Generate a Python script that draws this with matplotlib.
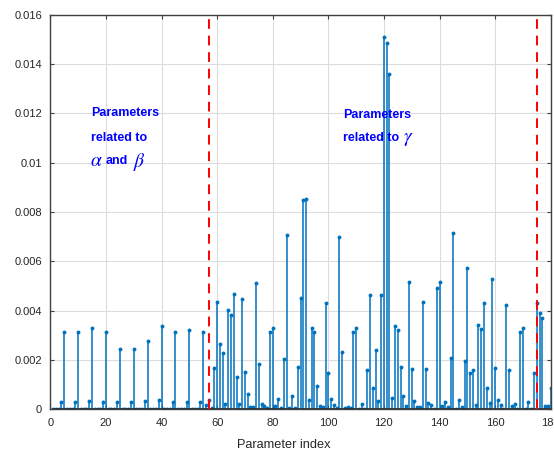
import numpy as np
import matplotlib
matplotlib.use("Agg")
import matplotlib.pyplot as plt

plt.rcParams['font.family'] = ['Liberation Sans', 'DejaVu Sans']
plt.rcParams['mathtext.fontset'] = 'stix'

# Parameter indices 1..180 and their values
param_index = list(range(1, 181))
values = [
    0, 0, 0, 0.0003, 0.00315,
    0, 0, 0, 0.0003, 0.00315,
    0, 0, 0, 0.00034, 0.00331,
    0, 0, 0, 0.0003, 0.00315,
    0, 0, 0, 0.0003, 0.00243,
    0, 0, 0, 0.0003, 0.00243,
    0, 0, 0, 0.00035, 0.00277,
    0, 0, 0, 0.00039, 0.00338,
    0, 0, 0, 0.0003, 0.00314,
    0, 0, 0, 0.0003, 0.00322,
    0, 0, 0, 0.0003, 0.00315,
    0.00016, 0.00038, 0.00006, 0.00169, 0.00436,
    0.00264, 0.00228, 0.0002, 0.00402, 0.00382,
    0.00468, 0.00132, 0.0002, 0.00449, 0.00152,
    0.00063, 0.0001, 0.00008, 0.00511, 0.00184,
    0.0002, 0.00015, 0.00005, 0.00315, 0.0033,
    0.00015, 0.00043, 0.00007, 0.00205, 0.00707,
    0.00007, 0.00055, 0.00007, 0.0017, 0.0045,
    0.00849, 0.00853, 0.00038, 0.0033, 0.00314,
    0.00095, 0.00015, 0.0001, 0.0043, 0.00149,
    0.0004, 0.00019, 0.00007, 0.007, 0.00232,
    0.00007, 0.0001, 0.00004, 0.00315, 0.0033,
    0, 0.0002, 0.00003, 0.0016, 0.00464,
    0.00085, 0.0024, 0.00033, 0.00464, 0.01509,
    0.01485, 0.0136, 0.00045, 0.00338, 0.00322,
    0.00173, 0.00054, 0.00013, 0.00515, 0.00162,
    0.00035, 0.00008, 0.00008, 0.00437, 0.00162,
    0.00024, 0.00017, 0.00003, 0.00491, 0.00515,
    0.00013, 0.00031, 0.00008, 0.00207, 0.00714,
    0.00003, 0.00038, 0.00008, 0.00197, 0.00572,
    0.00149, 0.0016, 0.00017, 0.00342, 0.00326,
    0.0043, 0.00085, 0.00027, 0.00529, 0.00169,
    0.00038, 0.00017, 0.00003, 0.00423, 0.0016,
    0.00013, 0.0002, 0, 0.00312, 0.00329,
    0, 0.00031, 0.00003, 0.00146, 0.0043,
    0.00389, 0.00369, 0.00013, 0.00013, 0.00085,
]
boundaries = [57, 175]
x_ticks = [0, 20, 40, 60, 80, 100, 120, 140, 160, 180]
y_ticks = [0, 0.002, 0.004, 0.006, 0.008, 0.01, 0.012, 0.014, 0.016]
y_tick_labels = ['0', '0.002', '0.004', '0.006', '0.008', '0.01', '0.012', '0.014', '0.016']

W, H = 554, 454
fig = plt.figure(figsize=(W / 100, H / 100), dpi=100)
left, right, top, bottom = 50.3, 550.7, 14.9, 409.3
ax = fig.add_axes([left / W, 1 - bottom / H, (right - left) / W, (bottom - top) / H])

blue = '#0072BD'
ml, sl, bl = ax.stem(param_index, values, linefmt='-', markerfmt='o', basefmt='-')
plt.setp(sl, color=blue, linewidth=1.1)
plt.setp(ml, color=blue, markersize=2.8, markeredgewidth=0)
plt.setp(bl, color='#262626', linewidth=1.2)

for b in boundaries:
    ax.axvline(b, color='#FF0000', linestyle=(0, (5, 3.5)), linewidth=1.4, zorder=5)

ax.set_xlim(0, 180)
ax.set_ylim(0, 0.016)
ax.set_xticks(x_ticks)
ax.set_xticklabels([str(t) for t in x_ticks])
ax.set_yticks(y_ticks)
ax.set_yticklabels(y_tick_labels)
ax.grid(True, color='#DCDCDC', linewidth=0.8)
ax.set_axisbelow(True)
ax.tick_params(direction='in', length=3, width=0.8, colors='#404040',
               labelsize=8, top=True, right=True, pad=6)
for tl in ax.get_xticklabels() + ax.get_yticklabels():
    tl.set_color('#262626')
for s in ax.spines.values():
    s.set_color('#404040')
    s.set_linewidth(1.0)
ax.set_xlabel('Parameter index', fontsize=9.2, color='#262626')
ax.xaxis.label.set_va('center')
ax.xaxis.set_label_coords((284 - left) / (right - left), (bottom - 445) / (bottom - top))

tcol = '#0000FF'
ax.text(14.6, 0.01202, 'Parameters', color=tcol, fontsize=9, fontweight='bold', va='center', ha='left')
ax.text(14.6, 0.01101, 'related to', color=tcol, fontsize=9, fontweight='bold', va='center', ha='left')
ax.text(14.4, 0.01005, r'$\alpha$', color=tcol, fontsize=14, va='center', ha='left')
ax.text(19.9, 0.01009, 'and', color=tcol, fontsize=9, fontweight='bold', va='center', ha='left')
ax.text(29.9, 0.01005, r'$\beta$', color=tcol, fontsize=14, va='center', ha='left')
ax.text(105.3, 0.01194, 'Parameters', color=tcol, fontsize=9, fontweight='bold', va='center', ha='left')
ax.text(105.3, 0.01101, 'related to', color=tcol, fontsize=9, fontweight='bold', va='center', ha='left')
ax.text(127.0, 0.01095, r'$\gamma$', color=tcol, fontsize=14, va='center', ha='left')

fig.savefig('out.png', dpi=100)
